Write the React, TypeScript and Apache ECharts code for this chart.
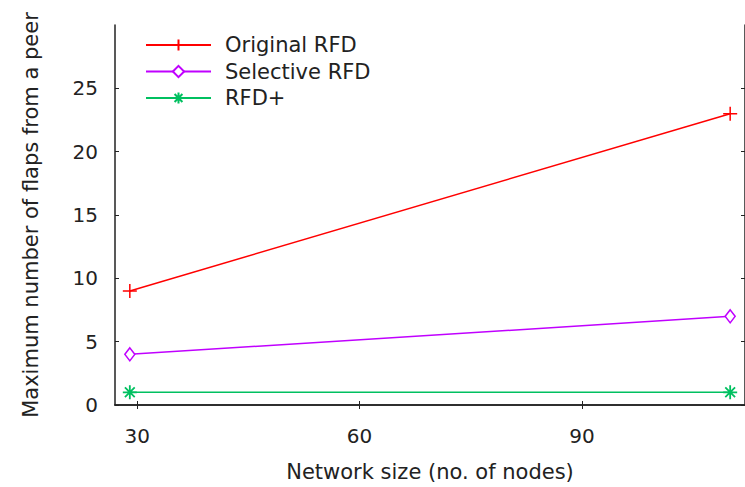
import React, { useEffect, useRef } from "react";
import * as echarts from "echarts";

const networkSizes = [29, 110];
const originalRFD = [9, 23];
const selectiveRFD = [4, 7];
const rfdPlus = [1, 1];
const seriesNames = ["Original RFD", "Selective RFD", "RFD+"];
const xTicks = [30, 60, 90];
const yTicks = [0, 5, 10, 15, 20, 25];

const PLUS = "path://M0,-10V10M-10,0H10";
const STAR = "path://M0,-10V10M-10,0H10M-7,-7L7,7M-7,7L7,-7";

export default function App() {
  const ref = useRef<HTMLDivElement>(null);
  useEffect(() => {
    if (!ref.current) return;
    const chart = echarts.init(ref.current, null, { renderer: "svg" });
    const font = "'DejaVu Sans', Verdana, sans-serif";
    const txt = "#222";
    const axisLine = { show: true, lineStyle: { color: "#222", width: 1.5 } };
    const mk = (xs: number[], ys: number[]) => xs.map((x, i) => [x, ys[i]]);
    chart.setOption({
      animation: false,
      backgroundColor: "#fff",
      textStyle: { fontFamily: font },
      grid: { left: 115, right: -2, top: 25, bottom: 80, containLabel: false },
      legend: {
        orient: "vertical",
        left: 145,
        top: 34.5,
        padding: 0,
        itemWidth: 65,
        itemHeight: 14,
        itemGap: 5.5,
        textStyle: { fontSize: 21, color: txt, fontFamily: font, lineHeight: 21, padding: [0, 0, 0, 9] },
        data: seriesNames,
      },
      xAxis: [
        {
          type: "value",
          min: 27,
          max: 112,
          interval: 30,
          name: "Network size (no. of nodes)",
          nameLocation: "middle",
          nameGap: 56,
          nameTextStyle: { fontSize: 21, color: txt, fontFamily: font },
          axisLine,
          axisTick: { show: true, inside: true, length: 4, lineStyle: { color: "#222" }, customValues: xTicks },
          axisLabel: { fontSize: 20, color: txt, margin: 21, fontFamily: font, customValues: xTicks },
          splitLine: { show: false },
        },
        {
          type: "value",
          position: "top",
          min: 27,
          max: 112,
          axisLine,
          axisTick: { show: true, inside: true, length: 4, lineStyle: { color: "#222" }, customValues: xTicks },
          axisLabel: { show: false },
          splitLine: { show: false },
        },
      ],
      yAxis: [
        {
          type: "value",
          min: 0,
          max: 30,
          interval: 5,
          name: "Maximum number of flaps from a peer",
          nameLocation: "middle",
          nameGap: 73.5,
          nameRotate: 90,
          nameTextStyle: { fontSize: 21, color: txt, fontFamily: font },
          axisLine,
          axisTick: { show: true, inside: true, length: 4, lineStyle: { color: "#222" }, customValues: yTicks },
          axisLabel: { fontSize: 20, color: txt, margin: 17, fontFamily: font, customValues: yTicks },
          splitLine: { show: false },
        },
        {
          type: "value",
          position: "right",
          min: 0,
          max: 30,
          interval: 5,
          axisLine,
          axisTick: { show: true, inside: true, length: 4, lineStyle: { color: "#222" }, customValues: yTicks },
          axisLabel: { show: false },
          splitLine: { show: false },
        },
      ],
      series: [
        {
          name: seriesNames[0],
          type: "line",
          data: mk(networkSizes, originalRFD),
          symbol: PLUS,
          symbolSize: 14,
          lineStyle: { color: "#ff0000", width: 1.5 },
          itemStyle: { color: "#ff0000", borderColor: "#ff0000", borderWidth: 1.5 },
        },
        {
          name: seriesNames[1],
          type: "line",
          data: mk(networkSizes, selectiveRFD),
          symbol: "diamond",
          symbolSize: [10, 13],
          lineStyle: { color: "#c000ff", width: 1.5 },
          itemStyle: { color: "#fff", borderColor: "#c000ff", borderWidth: 1.5 },
        },
        {
          name: seriesNames[2],
          type: "line",
          data: mk(networkSizes, rfdPlus),
          symbol: STAR,
          symbolSize: 14,
          lineStyle: { color: "#00c060", width: 1.5 },
          itemStyle: { color: "#00c060", borderColor: "#00c060", borderWidth: 1.8 },
        },
      ],
    });
    return () => chart.dispose();
  }, []);
  return (
    <div
      ref={ref}
      style={{ position: "fixed", left: 0, top: 0, width: 745, height: 487, background: "#fff" }}
    />
  );
}
